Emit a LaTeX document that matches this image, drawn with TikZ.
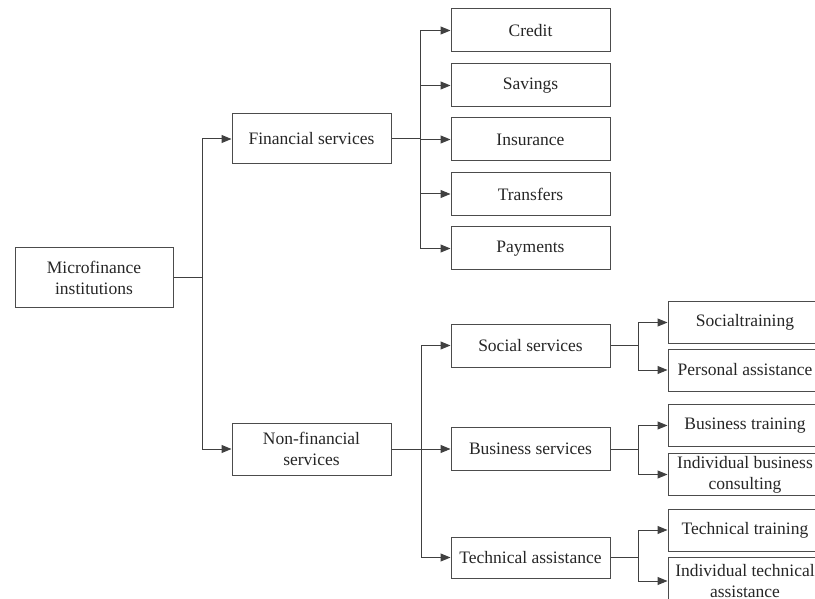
\documentclass[tikz,border=0pt]{standalone}
\usepackage{fontspec}
\setmainfont{Liberation Serif}
\usetikzlibrary{positioning, arrows.meta}

\begin{document}
\begin{tikzpicture}[
  x=1pt, y=-1pt,
  font=\fontsize{17.5}{21}\selectfont,
  >={Triangle[length=10pt, width=8pt]},
  unit/.style={rectangle, draw=black!70, line width=1pt, text=black!85,
               minimum width=159pt, minimum height=43pt, align=center,
               inner sep=2pt},
  leaf/.style={unit, minimum width=154pt, minimum height=42pt},
  feed/.style={->, line width=1pt, draw=black!75},
  stem/.style={line width=1pt, draw=black!75},
]
\useasboundingbox (0,0) rectangle (815,599);
\clip (0,0) rectangle (815,599);

% --- raiz ---
\node[unit, minimum width=158pt, minimum height=59pt] (mfi)  at (94,277.5) {Microfinance\\institutions};

% --- primer nivel ---
\node[unit, minimum height=50pt] (fin)  at (311.5,139) {Financial services};
\node[unit, minimum height=52pt] (nfin) at (311.5,449) {Non-financial\\services};

% --- servicios financieros ---
\node[unit] (credit)   at (530.5,30.5)  {Credit};
\node[unit] (savings)  at (530.5,85.5)  {Savings};
\node[unit] (insur)    at (530.5,139.5) {Insurance};
\node[unit] (transf)   at (530.5,194)   {Transfers};
\node[unit] (paym)     at (530.5,248.5) {Payments};

% --- servicios no financieros ---
\node[unit] (social)   at (530.5,345.5) {Social services};
\node[unit] (business) at (530.5,449)   {Business services};
\node[unit, minimum height=41pt] (techn) at (530.5,557.5) {Technical assistance};

% --- hojas ---
\node[leaf] (soctr)  at (745,322.5) {Socialtraining};
\node[leaf] (persa)  at (745,370)   {Personal assistance};
\node[leaf] (bustr)  at (745,425.5) {Business training};
\node[leaf] (busco)  at (745,474.5) {Individual business\\consulting};
\node[leaf] (techtr) at (745,530)   {Technical training};
\node[leaf, minimum height=48pt] (techas) at (745,581) {Individual technical\\assistance};

% --- puntos de ramificacion ---
\coordinate (j0) at (202,277.5);
\coordinate (j1) at (420,139);
\coordinate (j2) at (421,449);
\coordinate (j3) at (638,345.5);
\coordinate (j4) at (638,449);
\coordinate (j5) at (638,557.5);

% --- conexiones ---
\draw[stem] (mfi.east) -- (j0);
\draw[feed] (j0) |- (fin.west);
\draw[feed] (j0) |- (nfin.west);

\draw[stem] (fin.east) -- (j1);
\draw[feed] (j1) |- (credit.west);
\draw[feed] (j1) |- (savings.west);
\draw[feed] (j1) |- (insur.west);
\draw[feed] (j1) |- (transf.west);
\draw[feed] (j1) |- (paym.west);

\draw[stem] (nfin.east) -- (j2);
\draw[feed] (j2) |- (social.west);
\draw[feed] (j2) |- (business.west);
\draw[feed] (j2) |- (techn.west);

\draw[stem] (social.east) -- (j3);
\draw[feed] (j3) |- (soctr.west);
\draw[feed] (j3) |- (persa.west);

\draw[stem] (business.east) -- (j4);
\draw[feed] (j4) |- (bustr.west);
\draw[feed] (j4) |- (busco.west);

\draw[stem] (techn.east) -- (j5);
\draw[feed] (j5) |- (techtr.west);
\draw[feed] (j5) |- (techas.west);
\end{tikzpicture}
\end{document}
